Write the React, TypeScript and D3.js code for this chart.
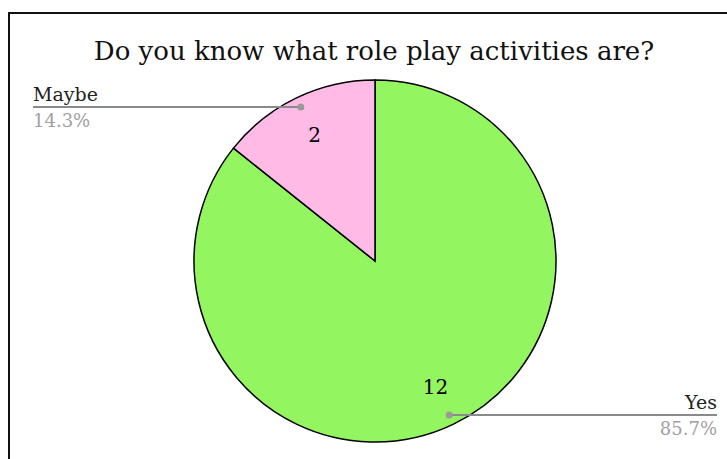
import React from "react";
import * as d3 from "d3";

const title = "Do you know what role play activities are?";
const categories = ["Yes", "Maybe"];
const values = [12, 2];
const sliceColors = ["#93f560", "#ffbae6"];

const W = 727;
const H = 459;
const FONT = "'DejaVu Serif', Georgia, serif";

export default function App() {
  const cx = 375;
  const cy = 261;
  const r = 181;
  const total = d3.sum(values);
  const pie = d3
    .pie<number>()
    .sort(null)
    .value((d) => d)(values);
  const arc = d3.arc<d3.PieArcDatum<number>>().innerRadius(0).outerRadius(r);
  const labelArc = d3
    .arc<d3.PieArcDatum<number>>()
    .innerRadius(r * 0.77)
    .outerRadius(r * 0.77);
  const dotArc = d3
    .arc<d3.PieArcDatum<number>>()
    .innerRadius(r * 0.945)
    .outerRadius(r * 0.945);
  const fmt = d3.format(".1%");
  const leftX = 33;
  const rightX = 717;

  return (
    <svg
      width={W}
      height={H}
      style={{ position: "absolute", left: 0, top: 0 }}
      fontFamily={FONT}
    >
      <rect x={0} y={0} width={W} height={H} fill="#fff" />
      <rect x={9} y={13} width={W + 50} height={H + 50} fill="#fff" stroke="#111" strokeWidth={2} />
      <text x={374} y={60} textAnchor="middle" fontSize={26} fill="#111">
        {title}
      </text>
      <g transform={`translate(${cx},${cy})`}>
        {pie.map((d, i) => (
          <path key={i} d={arc(d) || ""} fill={sliceColors[i]} stroke="#000" strokeWidth={1.5} />
        ))}
        {pie.map((d, i) => {
          const [x, y] = labelArc.centroid(d);
          return (
            <text key={"l" + i} x={x} y={y} textAnchor="middle" dominantBaseline="central" fontSize={20} fill="#000">
              {values[i]}
            </text>
          );
        })}
      </g>
      {pie.map((d, i) => {
        const [dx, dy] = dotArc.centroid(d);
        const px = cx + dx;
        const py = cy + dy;
        const isLeft = dx < 0;
        const endX = isLeft ? leftX : rightX;
        const anchor = isLeft ? "start" : "end";
        return (
          <g key={"c" + i}>
            <line x1={px} y1={py} x2={endX} y2={py} stroke="#8a8a8a" strokeWidth={2} />
            <circle cx={px} cy={py} r={3.5} fill="#9a9a9a" />
            <text x={endX} y={py - 6} textAnchor={anchor} fontSize={19} fill="#222">
              {categories[i]}
            </text>
            <text x={endX} y={py + 20} textAnchor={anchor} fontSize={18} fill="#a0a0a0">
              {fmt(values[i] / total)}
            </text>
          </g>
        );
      })}
    </svg>
  );
}
